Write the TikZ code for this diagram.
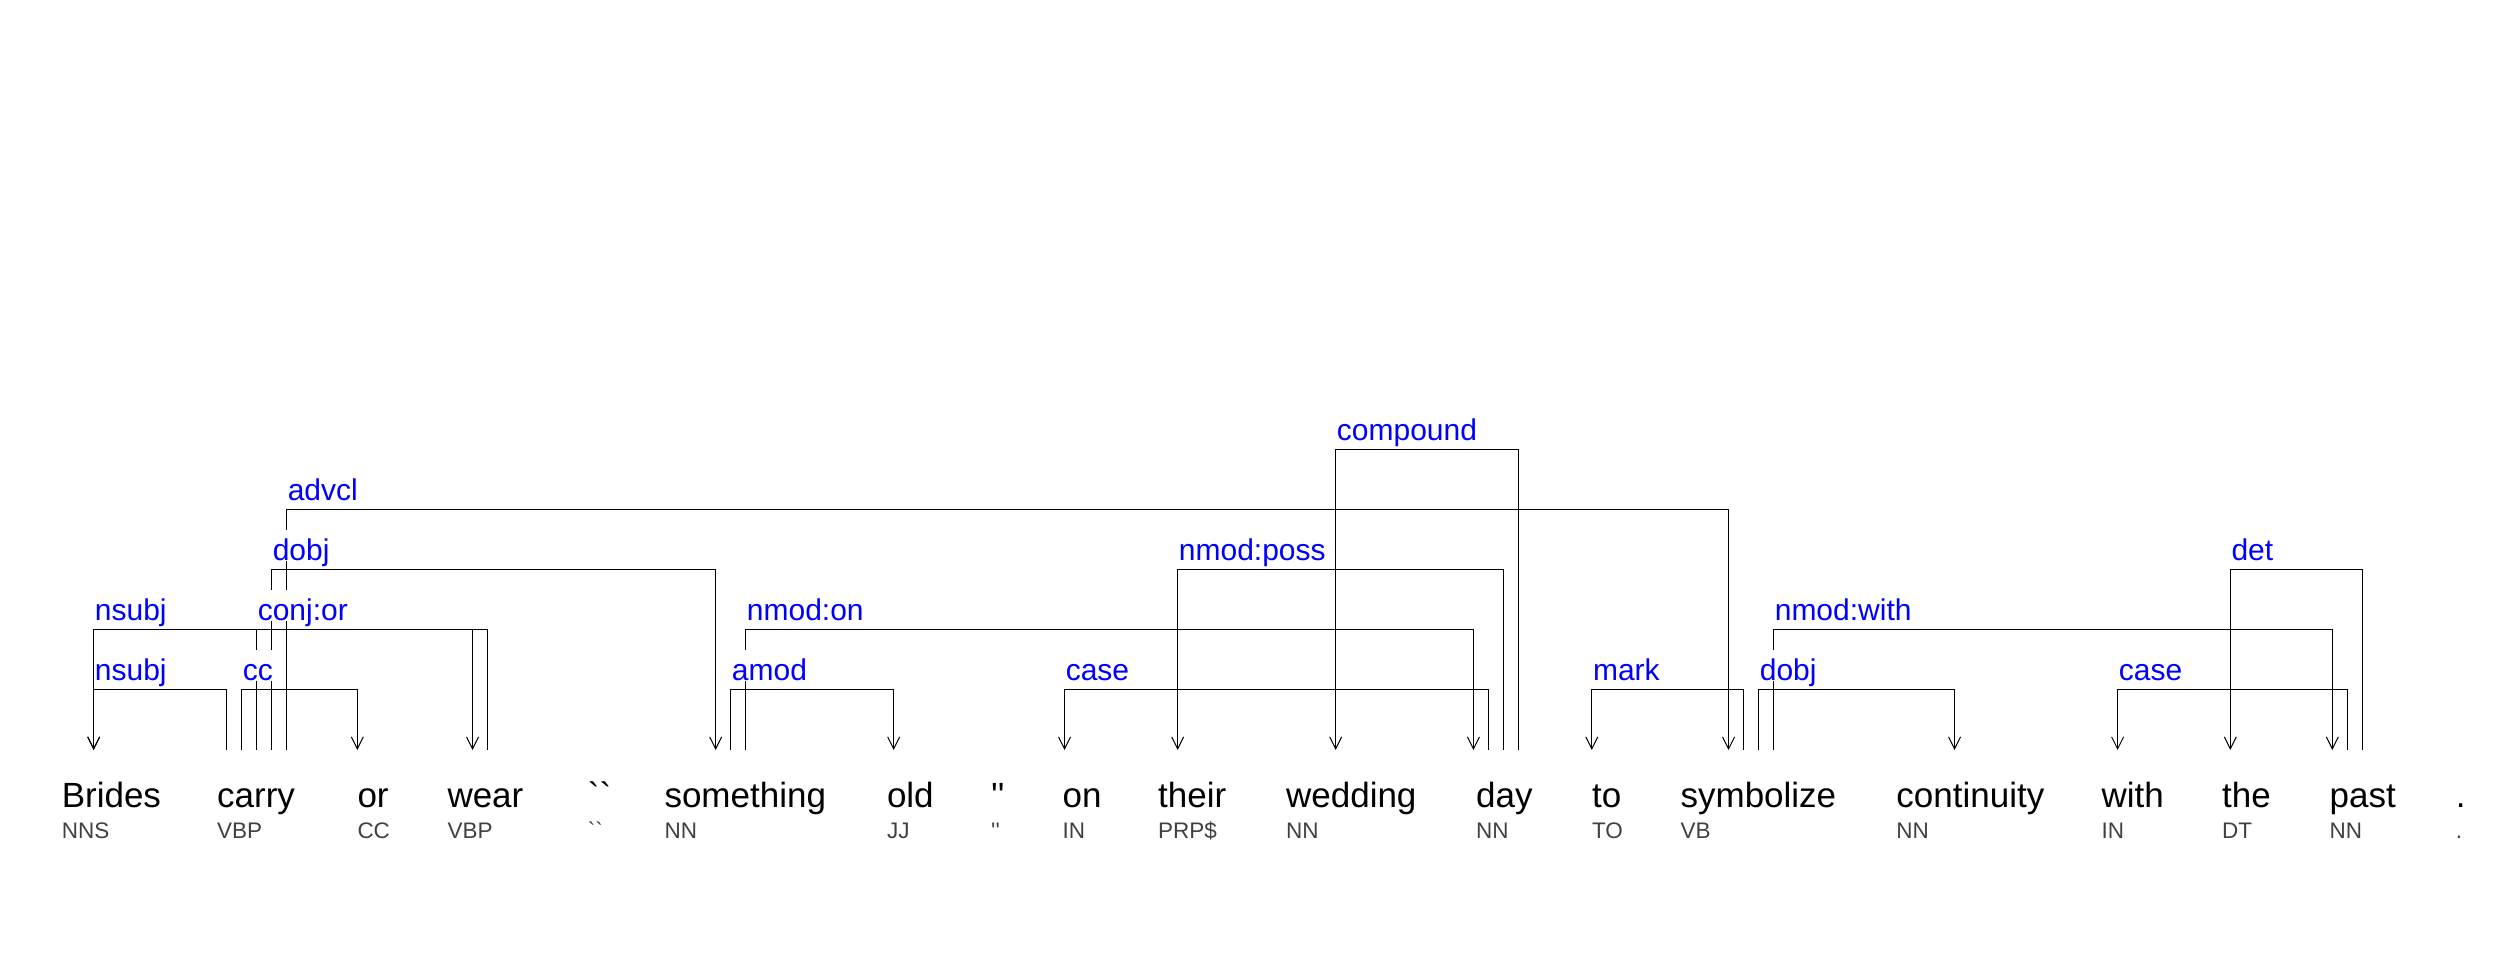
\documentclass[tikz,border=0pt]{standalone}
\usepackage{fontspec}
\setmainfont{Liberation Sans}[Ligatures=TeXOff]
\usetikzlibrary{arrows.meta}
\definecolor{labelblue}{HTML}{0000FF}
\definecolor{taggray}{HTML}{404040}

\begin{document}
\begin{tikzpicture}[
    x=1pt, y=1pt,
    word/.style={anchor=base west,inner sep=0pt,font=\fontsize{35}{40}\selectfont},
    tag/.style={anchor=base west,inner sep=0pt,text=taggray,font=\fontsize{22.5}{26}\selectfont},
    lbl/.style={anchor=base west,yshift=9pt,fill=white,inner xsep=1pt,inner ysep=0pt,text height=31pt,text depth=0pt,text=labelblue,font=\fontsize{30}{34}\selectfont},
    dep/.style={line width=1pt},
    arr/.style={dep,-{Straight Barb[length=12pt,width=12pt]}}
  ]
  \useasboundingbox (0,0) rectangle (2519,960);

  % words and their tags
  \foreach \x/\w/\t [count=\i] in {61.6/Brides/NNS, 217/carry/VBP, 357.3/or/CC, 447.3/wear/VBP,
      587.7/``/``, 664.3/something/NN, 886.8/old/JJ, 991/''/'', 1062.5/on/IN, 1157.9/their/PRP\$,
      1285.9/wedding/NN, 1476/day/NN, 1591.8/to/TO, 1680.4/symbolize/VB, 1896.2/continuity/NN,
      2101.4/with/IN, 2221.9/the/DT, 2329.5/past/NN, 2455.7/./.}{
    \node[word] (w\i) at (\x,152) {\w};
    \node[tag] (t\i) at (\x,121) {\t};
  }

  % levels of the arcs
  \foreach \l/\y in {1/270, 2/330, 3/390, 4/450, 5/510}
    \coordinate (L\l) at (0,\y);

  % attachment points above the words
  \foreach \n/\x in {brides-in/93.7, carry-1/226.6, carry-2/241.6, carry-3/256.6, carry-4/271.6,
      carry-5/286.6, or-in/357.3, wear-in/472.5, wear-1/487.5, something-in/715.7,
      something-1/730.7, something-2/745.7, old-in/893.7, on-in/1064.6, their-in/1177.7,
      wedding-in/1335.7, day-in/1473.4, day-1/1488.4, day-2/1503.4, day-3/1518.4, to-in/1591.8,
      symbolize-in/1728.6, symbolize-1/1743.6, symbolize-2/1758.6, symbolize-3/1773.6,
      continuity-in/1954.5, with-in/2117.6, the-in/2230.3, past-in/2332.3, past-1/2347.3,
      past-2/2362.3}
    \coordinate (\n) at (\x,210);

  % arcs
  \draw[arr] (carry-1) -- (carry-1 |- L1) -| (brides-in);
  \draw[arr] (wear-1) -- (wear-1 |- L2) -| (brides-in);
  \draw[arr] (carry-2) -- (carry-2 |- L1) -| (or-in);
  \draw[arr] (carry-3) -- (carry-3 |- L2) -| (wear-in);
  \draw[arr] (carry-4) -- (carry-4 |- L3) -| (something-in);
  \draw[arr] (carry-5) -- (carry-5 |- L4) -| (symbolize-in);
  \draw[arr] (something-1) -- (something-1 |- L1) -| (old-in);
  \draw[arr] (something-2) -- (something-2 |- L2) -| (day-in);
  \draw[arr] (day-1) -- (day-1 |- L1) -| (on-in);
  \draw[arr] (day-2) -- (day-2 |- L3) -| (their-in);
  \draw[arr] (day-3) -- (day-3 |- L5) -| (wedding-in);
  \draw[arr] (symbolize-1) -- (symbolize-1 |- L1) -| (to-in);
  \draw[arr] (symbolize-2) -- (symbolize-2 |- L1) -| (continuity-in);
  \draw[arr] (symbolize-3) -- (symbolize-3 |- L2) -| (past-in);
  \draw[arr] (past-1) -- (past-1 |- L1) -| (with-in);
  \draw[arr] (past-2) -- (past-2 |- L3) -| (the-in);

  % relation labels
  \node[lbl] (nsubj-a) at (brides-in |- L1) {nsubj};
  \node[lbl] (nsubj-b) at (brides-in |- L2) {nsubj};
  \node[lbl] (cc) at (carry-2 |- L1) {cc};
  \node[lbl] (conj) at (carry-3 |- L2) {conj:or};
  \node[lbl] (dobj-a) at (carry-4 |- L3) {dobj};
  \node[lbl] (advcl) at (carry-5 |- L4) {advcl};
  \node[lbl] (amod) at (something-1 |- L1) {amod};
  \node[lbl] (nmod-on) at (something-2 |- L2) {nmod:on};
  \node[lbl] (case-a) at (on-in |- L1) {case};
  \node[lbl] (nmod-poss) at (their-in |- L3) {nmod:poss};
  \node[lbl] (compound) at (wedding-in |- L5) {compound};
  \node[lbl] (mark) at (to-in |- L1) {mark};
  \node[lbl] (dobj-b) at (symbolize-2 |- L1) {dobj};
  \node[lbl] (nmod-with) at (symbolize-3 |- L2) {nmod:with};
  \node[lbl] (case-b) at (with-in |- L1) {case};
  \node[lbl] (det) at (the-in |- L3) {det};
\end{tikzpicture}
\end{document}
